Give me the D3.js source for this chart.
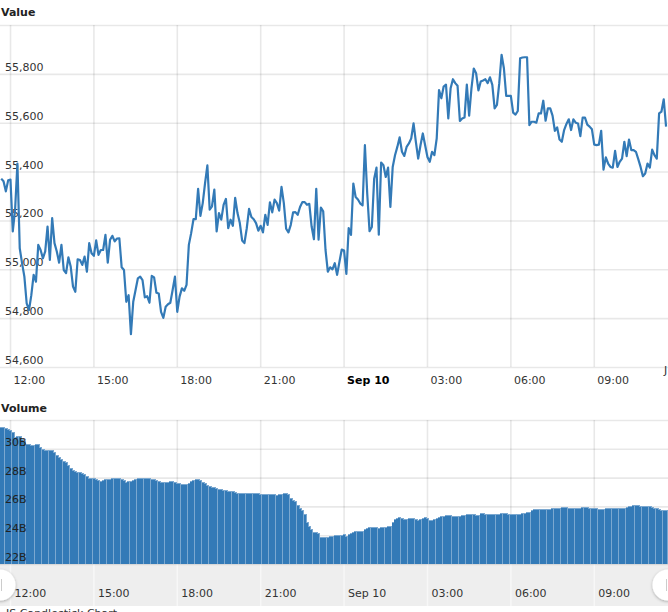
<!DOCTYPE html>
<html>
<head>
<meta charset="utf-8">
<script src="https://cdnjs.cloudflare.com/ajax/libs/d3/7.8.5/d3.min.js"></script>
<style>
html, body { margin: 0; padding: 0; background: #fff; overflow: hidden; }
svg { display: block; }
text { font-family: "DejaVu Sans", sans-serif; font-size: 11px; fill: #333; }
.panel-title { font-weight: bold; fill: #222; }
.grid line { stroke: #000; stroke-opacity: 0.09; stroke-width: 1.6; }
.grid path { display: none; }
.band line { stroke: #fff; stroke-opacity: 0.5; stroke-width: 1.6; }
.band path { display: none; }
</style>
</head>
<body>
<div id="display-container"></div>
<script>
// 5 minute samples, first one at 11:41 on Sep 9
var firstSample = new Date(2019, 8, 9, 11, 41);
var sampleMinutes = 5;

var valueSeries = [
55371,55360,55319,55364,55367,55155,55244,55433,55086,55025,
54970,54860,54833,54894,54977,54949,55100,55079,55045,55073,
55175,55038,55210,55107,55073,55027,55100,54997,54984,55049,
55011,54929,54908,55041,55038,55018,55052,54990,55107,55066,
55055,55118,55059,55079,55079,55141,55027,55121,55137,55114,
55126,55127,55008,54997,54867,54894,54734,54867,54915,54963,
54970,54956,54885,54890,54863,54973,54967,54904,54901,54826,
54801,54847,54857,54863,54915,54970,54826,54888,54922,54912,
54936,55100,55148,55205,55205,55329,55219,55271,55353,55425,
55244,55258,55326,55155,55230,55203,55264,55288,55168,55203,
55178,55292,55230,55189,55118,55107,55168,55247,55214,55205,
55189,55158,55178,55151,55223,55182,55274,55233,55285,55271,
55240,55337,55271,55166,55151,55182,55233,55234,55223,55255,
55275,55275,55264,55268,55175,55123,55329,55121,55253,55237,
55079,54990,55008,55000,55025,54977,55030,55081,55077,54981,
55169,55141,55351,55296,55286,55269,55262,55508,55310,55156,
55173,55371,55416,55142,55437,55426,55378,55416,55255,55419,
55467,55501,55540,55481,55464,55501,55515,55536,55597,55522,
55453,55508,55556,55508,55460,55440,55481,55467,55536,55734,
55700,55748,55756,55618,55741,55778,55762,55751,55607,55617,
55621,55756,55629,55741,55822,55803,55732,55769,55773,55778,
55762,55786,55755,55659,55673,55762,55878,55823,55710,55710,
55710,55641,55633,55648,55864,55867,55868,55868,55590,55604,
55604,55600,55638,55638,55690,55608,55659,55659,55629,55567,
55581,55531,55522,55570,55595,55614,55570,55614,55600,55597,
55545,55621,55621,55592,55584,55573,55510,55508,55510,55567,
55408,55458,55433,55419,55416,55485,55419,55440,55453,55522,
55463,55531,55488,55488,55481,55451,55419,55381,55392,55433,
55416,55490,55467,55453,55638,55645,55696,55584
];

// in billions
var volumeSeries = [
31.45,31.45,31.38,31.29,31.22,31.11,30.76,30.83,30.80,30.64,
30.46,30.29,30.25,30.22,30.22,30.25,30.27,30.06,29.92,29.87,
29.87,29.87,29.85,29.71,29.48,29.36,29.22,29.08,29.02,28.78,
28.60,28.43,28.39,28.34,28.32,28.27,28.20,28.06,27.92,27.90,
27.90,27.83,27.74,27.69,27.74,27.81,27.83,27.85,27.88,27.90,
27.90,27.90,27.83,27.74,27.64,27.67,27.71,27.76,27.83,27.88,
27.90,27.90,27.90,27.90,27.90,27.85,27.81,27.76,27.69,27.64,
27.62,27.62,27.64,27.67,27.67,27.64,27.57,27.53,27.51,27.48,
27.48,27.57,27.67,27.74,27.83,27.85,27.76,27.64,27.55,27.44,
27.34,27.30,27.25,27.20,27.16,27.11,27.09,27.06,27.02,26.99,
26.97,26.92,26.88,26.85,26.85,26.85,26.85,26.85,26.85,26.85,
26.85,26.85,26.81,26.76,26.76,26.79,26.81,26.81,26.76,26.74,
26.76,26.81,26.83,26.83,26.76,26.51,26.37,26.30,26.04,25.83,
25.65,25.41,24.88,24.60,24.37,24.18,24.14,24.07,23.84,23.81,
23.81,23.79,23.86,23.90,23.93,23.93,23.93,23.95,24.00,23.88,
24.00,24.11,24.16,24.21,24.23,24.23,24.25,24.37,24.46,24.49,
24.51,24.53,24.49,24.44,24.49,24.51,24.53,24.56,24.60,24.83,
25.04,25.14,25.16,25.11,25.07,25.09,25.11,25.11,25.11,25.07,
25.02,25.07,25.14,25.18,25.11,25.02,25.02,25.04,25.11,25.21,
25.25,25.28,25.30,25.30,25.30,25.28,25.25,25.25,25.28,25.30,
25.35,25.37,25.37,25.37,25.37,25.35,25.35,25.44,25.46,25.41,
25.39,25.37,25.37,25.37,25.39,25.41,25.44,25.44,25.44,25.41,
25.41,25.41,25.39,25.37,25.41,25.44,25.48,25.51,25.53,25.67,
25.72,25.72,25.72,25.72,25.72,25.72,25.74,25.76,25.79,25.81,
25.83,25.83,25.86,25.88,25.86,25.83,25.81,25.81,25.81,25.81,
25.83,25.86,25.86,25.86,25.83,25.81,25.81,25.79,25.72,25.74,
25.76,25.79,25.79,25.79,25.81,25.81,25.83,25.81,25.83,25.83,
25.88,25.93,25.95,26.00,26.00,26.00,25.97,25.97,25.95,25.95,
25.95,25.88,25.83,25.79,25.72,25.69,25.67,25.65
];

var valueTicks = [54600, 54800, 55000, 55200, 55400, 55600, 55800, 56000];
var volumeTicks = [22, 24, 26, 28, 30, 32];

var width = 668;
var height = 612;
var blue = "#337ab7";

var times = valueSeries.map(function(d, i) {
    return d3.timeMinute.offset(firstSample, i * sampleMinutes);
});

var svg = d3.select("#display-container").append("svg")
    .attr("width", width)
    .attr("height", height);

var x = d3.scaleTime()
    .domain([new Date(2019, 8, 9, 11, 38, 24), new Date(2019, 8, 10, 11, 40, 12)])
    .range([0, width]);
var yValue = d3.scaleLinear().domain([54600, 56000]).range([367, 25]);
var yVolume = d3.scaleLinear().domain([22, 32]).range([564, 420]);

var hourTicks = d3.timeHour.every(3);
var midnight = d3.timeFormat("%b %-d");
var clock = d3.timeFormat("%H:%M");
function timeLabel(d) {
    return d.getHours() === 0 ? midnight(d) : clock(d);
}

svg.append("text").attr("class", "panel-title").attr("x", 1).attr("y", 16).text("Value");
svg.append("text").attr("class", "panel-title").attr("x", 1).attr("y", 412).text("Volume");

// ---- value panel
svg.append("g").attr("class", "grid")
    .attr("transform", "translate(0,367)")
    .call(d3.axisBottom(x).ticks(hourTicks).tickSize(-342).tickSizeOuter(0).tickFormat(""))
    .selectAll("text").remove();

var valueAxis = svg.append("g").attr("class", "grid")
    .call(d3.axisRight(yValue).tickValues(valueTicks).tickSize(width).tickFormat(function(d) {
        return d === 56000 ? "" : d3.format(",")(d);
    }));
valueAxis.selectAll("text").attr("x", 5).attr("y", -7).attr("dy", "0.32em");

var timeAxis = svg.append("g")
    .attr("transform", "translate(0,367)")
    .call(d3.axisBottom(x).ticks(hourTicks).tickSize(0).tickFormat(timeLabel));
timeAxis.select("path").remove();
timeAxis.selectAll("text")
    .attr("x", 3).attr("y", 9).attr("dy", "0.71em")
    .style("text-anchor", "start")
    .style("font-weight", function(d) { return d.getHours() === 0 ? "bold" : "normal"; })
    .style("fill", function(d) { return d.getHours() === 0 ? "#000" : "#333"; });

// clipped label at the right edge
svg.append("text").attr("x", 664).attr("y", 374).text("J");

var line = d3.line()
    .x(function(d, i) { return x(times[i]); })
    .y(function(d) { return yValue(d); });

svg.append("path")
    .datum(valueSeries)
    .attr("d", line)
    .attr("fill", "none")
    .attr("stroke", blue)
    .attr("stroke-width", 2.2)
    .attr("stroke-linejoin", "round");

// ---- volume panel
svg.append("rect").attr("x", 0).attr("y", 564).attr("width", width).attr("height", 42).attr("fill", "#eeeeee");

svg.append("g").attr("class", "grid")
    .attr("transform", "translate(0,564)")
    .call(d3.axisBottom(x).ticks(hourTicks).tickSize(-144).tickSizeOuter(0).tickFormat(""))
    .selectAll("text").remove();

svg.append("g").attr("class", "band")
    .attr("transform", "translate(0,564)")
    .call(d3.axisBottom(x).ticks(hourTicks).tickSize(42).tickSizeOuter(0).tickFormat(""))
    .selectAll("text").remove();

svg.append("g").attr("class", "grid")
    .call(d3.axisRight(yVolume).tickValues(volumeTicks).tickSize(width).tickFormat(""));

function barLeft(i) {
    return Math.round(x(times[i]) - 1.16);
}

// light layer, shows through as the thin separators and the top edge
svg.append("g").selectAll("rect")
    .data(volumeSeries)
    .enter().append("rect")
    .attr("x", function(d, i) { return barLeft(i); })
    .attr("y", function(d) { return Math.round(yVolume(d)) - 1; })
    .attr("width", 3)
    .attr("height", function(d) { return 565 - Math.round(yVolume(d)); })
    .attr("fill", "#7ba8d0")
    .attr("shape-rendering", "crispEdges");

svg.append("g").selectAll("rect")
    .data(volumeSeries)
    .enter().append("rect")
    .attr("x", function(d, i) { return barLeft(i); })
    .attr("y", function(d) { return Math.round(yVolume(d)); })
    .attr("width", 2)
    .attr("height", function(d) { return 564 - Math.round(yVolume(d)); })
    .attr("fill", blue)
    .attr("shape-rendering", "crispEdges");

var volumeAxis = svg.append("g")
    .call(d3.axisRight(yVolume).tickValues(volumeTicks).tickSize(0).tickFormat(function(d) {
        return d === 32 ? "" : d + "B";
    }));
volumeAxis.select("path").remove();
volumeAxis.selectAll("line").remove();
volumeAxis.selectAll("text").attr("x", 5).attr("y", -7).attr("dy", "0.32em").style("fill", "#222");

var bandAxis = svg.append("g")
    .attr("transform", "translate(0,564)")
    .call(d3.axisBottom(x).ticks(hourTicks).tickSize(0).tickFormat(timeLabel));
bandAxis.select("path").remove();
bandAxis.selectAll("text")
    .attr("x", 4).attr("y", 25).attr("dy", "0.71em")
    .style("text-anchor", "start");

// scrollbar grips
var defs = svg.append("defs");
var shadow = defs.append("filter").attr("id", "grip-shadow")
    .attr("x", "-50%").attr("y", "-50%").attr("width", "200%").attr("height", "200%");
shadow.append("feDropShadow")
    .attr("dx", 0).attr("dy", 1).attr("stdDeviation", 1.5)
    .attr("flood-color", "#000").attr("flood-opacity", 0.3);

[0, width].forEach(function(cx) {
    svg.append("circle")
        .attr("cx", cx).attr("cy", 585).attr("r", 15.5)
        .attr("fill", "#fff")
        .attr("filter", "url(#grip-shadow)");
    [-1.5, 1.5].forEach(function(dx) {
        svg.append("line")
            .attr("x1", cx + dx).attr("x2", cx + dx)
            .attr("y1", 579).attr("y2", 591)
            .attr("stroke", "#ccc");
    });
});

// caption, mostly below the fold
svg.append("text").attr("x", 6).attr("y", 617).text("JS Candlestick Chart");
</script>
</body>
</html>
